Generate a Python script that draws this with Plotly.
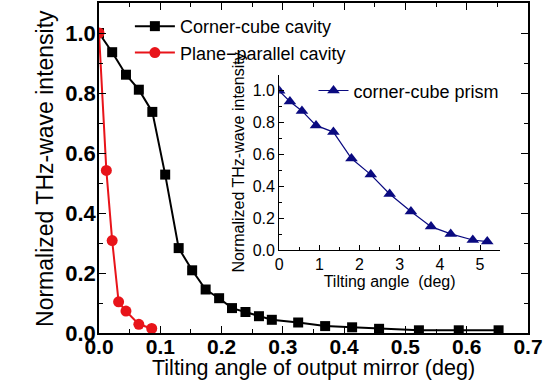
import plotly.graph_objects as go

# Main: corner-cube cavity
cc_x = [0.0, 0.0215, 0.044, 0.065, 0.087, 0.108, 0.130, 0.152, 0.174, 0.196, 0.217,
        0.239, 0.261, 0.282, 0.325, 0.369, 0.413, 0.457, 0.522, 0.587, 0.652]
cc_y = [1.0, 0.936, 0.861, 0.811, 0.737, 0.528, 0.283, 0.209, 0.145, 0.116, 0.083,
        0.070, 0.056, 0.044, 0.035, 0.023, 0.019, 0.014, 0.009, 0.009, 0.009]
# Main: plane-parallel cavity
pp_x = [0.0, 0.012, 0.0215, 0.032, 0.044, 0.065, 0.086]
pp_y = [1.0, 0.542, 0.308, 0.104, 0.073, 0.029, 0.015]
# Inset: corner-cube prism
pr_x = [0.0, 0.267, 0.567, 0.917, 1.35, 1.8, 2.28, 2.75, 3.28, 3.78, 4.27, 4.82, 5.18]
pr_y = [1.0, 0.933, 0.874, 0.783, 0.741, 0.575, 0.474, 0.352, 0.242, 0.147, 0.101, 0.063, 0.053]

FONT = "Arial, Liberation Sans, sans-serif"

fig = go.Figure()
fig.add_trace(go.Scatter(x=cc_x, y=cc_y, mode="lines+markers", name="Corner-cube cavity",
                         line=dict(color="black", width=2),
                         marker=dict(symbol="square", size=10, color="black"),
                         xaxis="x", yaxis="y", legend="legend"))
fig.add_trace(go.Scatter(x=pp_x, y=pp_y, mode="lines+markers", name="Plane\u2212parallel cavity",
                         line=dict(color="#e8141a", width=2),
                         marker=dict(symbol="circle", size=11, color="#e8141a"),
                         xaxis="x", yaxis="y", legend="legend"))
fig.add_trace(go.Scatter(x=pr_x, y=pr_y, mode="lines+markers", name="corner-cube prism",
                         line=dict(color="#0a0a80", width=1.2),
                         marker=dict(symbol="triangle-up", size=11, color="#0a0a80"),
                         xaxis="x2", yaxis="y2", legend="legend2"))

fig.update_layout(
    width=544, height=381,
    margin=dict(l=99, r=16, t=3, b=48),
    paper_bgcolor="white", plot_bgcolor="white",
    font=dict(family=FONT, color="black"),
    showlegend=True,
    xaxis=dict(range=[0, 0.7], dtick=0.1, tickformat=".1f", showgrid=False, zeroline=False,
               showline=True, linecolor="black", linewidth=1.5, mirror="ticks",
               ticks="inside", ticklen=7, tickwidth=1.3, tickcolor="black",
               minor=dict(dtick=0.05, ticks="inside", ticklen=4, tickcolor="black"),
               tickfont=dict(size=21, family=FONT, weight="bold"), ticklabelstandoff=-6,
               automargin=False),
    yaxis=dict(range=[0, 1.1], tickvals=[0, 0.2, 0.4, 0.6, 0.8, 1.0], tickformat=".1f",
               showgrid=False, zeroline=False,
               showline=True, linecolor="black", linewidth=1.5, mirror="ticks",
               ticks="inside", ticklen=7, tickwidth=1.3, tickcolor="black",
               minor=dict(dtick=0.1, ticks="inside", ticklen=4, tickcolor="black"),
               tickfont=dict(size=22, family=FONT, weight="bold"), ticklabelstandoff=-3,
               automargin=False),
    xaxis2=dict(domain=[0.420, 0.935], anchor="y2", range=[0, 5.5], dtick=1,
                showgrid=False, zeroline=False, showline=True, linecolor="black", linewidth=1,
                ticks="inside", ticklen=5, tickcolor="black",
                minor=dict(dtick=0.5, ticks="inside", ticklen=3, tickcolor="black"),
                tickfont=dict(size=16, family=FONT),
                title=dict(text="Tilting angle  (deg)", font=dict(size=16, family=FONT), standoff=2),
                automargin=False),
    yaxis2=dict(domain=[0.2515, 0.782], anchor="x2", range=[0, 1.1],
                tickvals=[0, 0.2, 0.4, 0.6, 0.8, 1.0], tickformat=".1f",
                showgrid=False, zeroline=False, showline=True, linecolor="black", linewidth=1,
                ticks="inside", ticklen=5, tickcolor="black",
                minor=dict(dtick=0.1, ticks="inside", ticklen=3, tickcolor="black"),
                tickfont=dict(size=16, family=FONT),
                title=dict(text="Normalized THz-wave intensity", font=dict(size=16, family=FONT), standoff=4),
                automargin=False),
    legend=dict(x=0.072, y=0.985, xanchor="left", yanchor="top", bgcolor="rgba(0,0,0,0)",
                font=dict(size=18, family=FONT), itemwidth=40, tracegroupgap=0),
    legend2=dict(x=0.50, y=0.79, xanchor="left", yanchor="top", bgcolor="rgba(0,0,0,0)",
                 font=dict(size=18, family=FONT), itemwidth=30),
    annotations=[
        dict(text="Tilting angle of output mirror (deg)", xref="paper", yref="paper",
             x=0.5, y=-0.1455, xanchor="center", yanchor="bottom", showarrow=False,
             font=dict(size=21.5, family=FONT), borderpad=0),
        dict(text="Normalized THz-wave intensity", xref="paper", yref="paper",
             x=-0.126, y=0.5, xanchor="center", yanchor="middle", showarrow=False,
             textangle=-90, font=dict(size=23, family=FONT)),
    ],
)

fig.write_html("out.html", post_script="document.body.style.margin='0';",
               config={"displayModeBar": False})
